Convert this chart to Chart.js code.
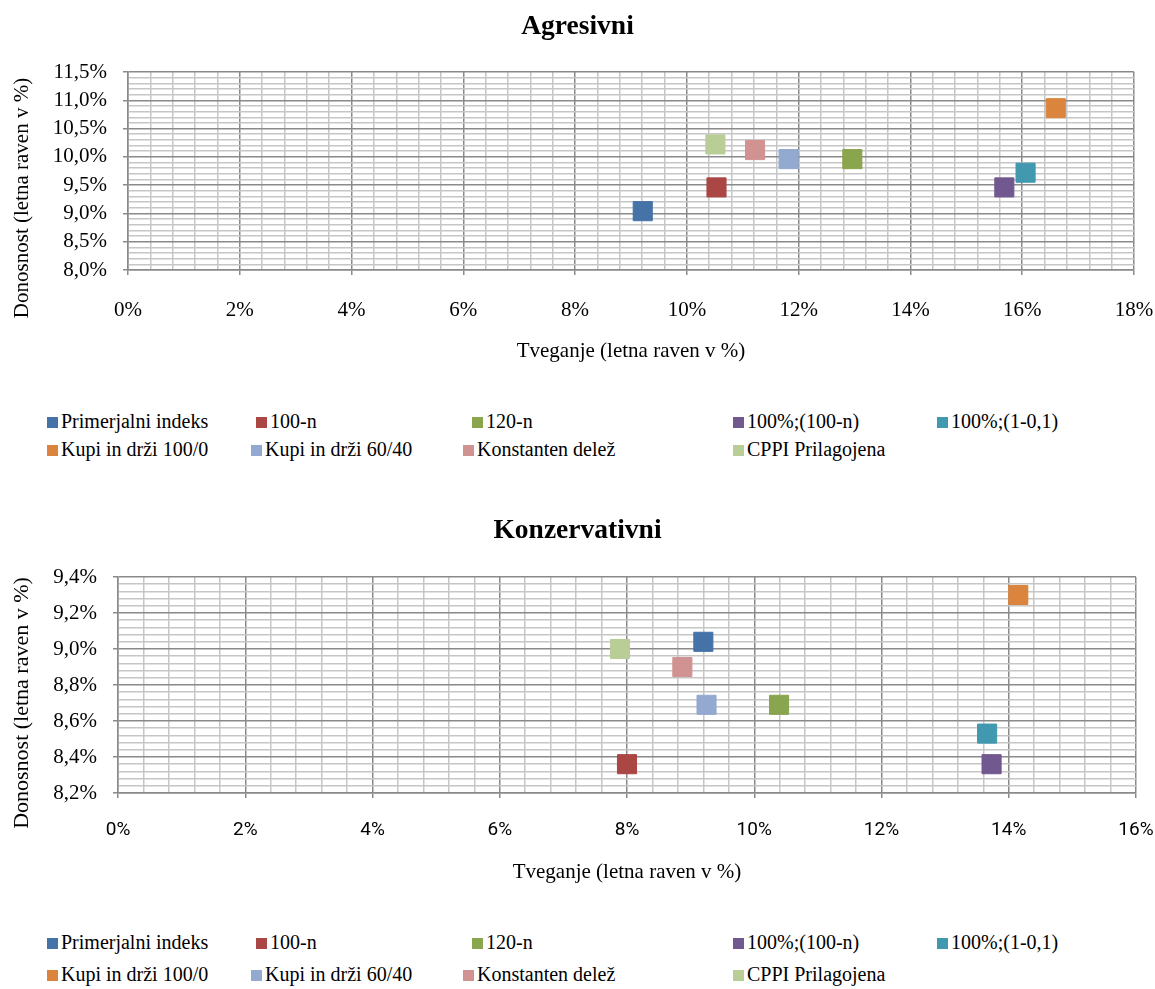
<!DOCTYPE html>
<html><head><meta charset="utf-8">
<script src="https://cdn.jsdelivr.net/npm/chart.js@4.4.1/dist/chart.umd.min.js"></script>
<style>
html,body{margin:0;padding:0;background:#fff;}
#page{position:relative;width:1155px;height:989px;overflow:hidden;background:#fff;}
canvas{position:absolute;left:0;}
.li{position:absolute;white-space:nowrap;display:flex;align-items:center;transform:translateY(-50%);
  font-family:"Liberation Serif","Times New Roman",serif;font-size:20px;color:#000;line-height:24px;}
.li i{display:inline-block;width:11px;height:11px;margin-right:3px;margin-top:2px;}
</style></head>
<body><div id="page">
<canvas id="c1" width="1155" height="380" style="top:0px"></canvas>
<canvas id="c2" width="1155" height="390" style="top:505px"></canvas>
</div>
<script>
// ---- data ----
const seriesNames = ['Primerjalni indeks','100-n','120-n','100%;(100-n)','100%;(1-0,1)',
                     'Kupi in drži 100/0','Kupi in drži 60/40','Konstanten delež','CPPI Prilagojena'];
const seriesColors = ['#4572A7','#AA4643','#89A54E','#71588F','#4198AF','#DB843D','#93A9CF','#D19392','#B9CD96'];

const agresivniRisk   = [9.21, 10.53, 12.96, 15.68, 16.06, 16.60, 11.82, 11.22, 10.51];
const agresivniReturn = [9.04, 9.46, 9.96, 9.46, 9.72, 10.86, 9.96, 10.12, 10.22];
const konzervRisk     = [9.20, 8.00, 10.39, 13.73, 13.66, 14.15, 9.25, 8.87, 7.89];
const konzervReturn   = [9.04, 8.36, 8.69, 8.36, 8.53, 9.30, 8.69, 8.90, 9.00];

const agresivniXTicks = [0, 2, 4, 6, 8, 10, 12, 14, 16, 18];
const agresivniYTicks = [8.0, 8.5, 9.0, 9.5, 10.0, 10.5, 11.0, 11.5];
const konzervXTicks   = [0, 2, 4, 6, 8, 10, 12, 14, 16];
const konzervYTicks   = [8.2, 8.4, 8.6, 8.8, 9.0, 9.2, 9.4];

const titleText = ['Agresivni', 'Konzervativni'];
const xTitle = 'Tveganje (letna raven v %)';
const yTitle = 'Donosnost (letna raven v %)';

// ---- helpers ----
const SERIF = '"Liberation Serif","Times New Roman",serif';
const MAJOR = '#8a8a8a', MINOR = '#c6c6c6';
function withMinor(major, n) {
  const out = [];
  for (let i = 0; i < major.length - 1; i++) {
    for (let k = 0; k < n; k++) out.push(+(major[i] + k * (major[i+1] - major[i]) / n).toFixed(6));
  }
  out.push(major[major.length - 1]);
  return out;
}
function isMajor(v, major) { return major.some(m => Math.abs(m - v) < 1e-6); }
const fmtY = v => v.toFixed(1).replace('.', ',') + '%';
const fmtX = v => v + '%';

const yTitlePlugin = {
  id: 'yTitlePlugin',
  afterDraw(chart, args, o) {
    const ctx = chart.ctx;
    ctx.save();
    ctx.translate(o.x, o.y);
    ctx.rotate(-Math.PI / 2);
    ctx.font = o.size + 'px ' + SERIF;
    ctx.fillStyle = '#000';
    ctx.textAlign = 'center';
    ctx.textBaseline = 'middle';
    ctx.fillText(o.text, 0, 0);
    ctx.restore();
  }
};

function makeChart(id, cfg) {
  const datasets = seriesNames.map((name, i) => ({
    label: name,
    data: [{ x: cfg.risk[i], y: cfg.ret[i] }],
    backgroundColor: seriesColors[i],
    borderColor: seriesColors[i],
    pointStyle: 'rect',
    pointRadius: 13.5,
    pointBorderWidth: 1
  }));
  const gridFor = (major) => ({
    drawTicks: true,
    tickLength: 5,
    color: c => isMajor(c.tick.value, major) ? MAJOR : MINOR,
    lineWidth: 1.5,
    tickColor: c => isMajor(c.tick.value, major) ? MAJOR : 'rgba(0,0,0,0)',
    tickWidth: 1.5
  });
  return new Chart(document.getElementById(id), {
    type: 'scatter',
    data: { datasets },
    plugins: [yTitlePlugin],
    options: {
      responsive: false,
      animation: false,
      devicePixelRatio: 1,
      layout: { padding: 0 },
      plugins: {
        legend: { display: false },
        tooltip: { enabled: false },
        title: {
          display: true, text: cfg.title, color: '#000',
          font: { family: SERIF, size: cfg.titleSize, weight: 'bold', lineHeight: 1.2 },
          padding: { top: cfg.titlePadTop, bottom: cfg.titlePadBottom }
        },
        yTitlePlugin: { text: yTitle, x: 22, y: cfg.yTitleY, size: cfg.yTitleSize }
      },
      scales: {
        x: {
          type: 'linear', min: cfg.xMajor[0], max: cfg.xMajor[cfg.xMajor.length - 1],
          afterBuildTicks: s => { s.ticks = withMinor(cfg.xMajor, 5).map(v => ({ value: v })); },
          afterFit: s => { s.height = cfg.xAxisHeight; s.paddingLeft = 0; s.paddingRight = cfg.padRight; },
          grid: gridFor(cfg.xMajor),
          border: { display: true, color: MAJOR, width: 1.5 },
          ticks: {
            autoSkip: false, maxRotation: 0, padding: cfg.xTickPad, color: '#000',
            font: cfg.xTickFont,
            callback: v => isMajor(v, cfg.xMajor) ? fmtX(v) : ''
          },
          title: {
            display: true, text: xTitle, color: '#000',
            font: { family: SERIF, size: 21, lineHeight: 1.2 },
            padding: { top: 0, bottom: cfg.xTitlePadBottom }
          }
        },
        y: {
          type: 'linear', min: cfg.yMajor[0], max: cfg.yMajor[cfg.yMajor.length - 1],
          afterBuildTicks: s => { s.ticks = withMinor(cfg.yMajor, 5).map(v => ({ value: v })); },
          afterFit: s => { s.width = cfg.yAxisWidth; s.paddingTop = 0; s.paddingBottom = 0; },
          grid: gridFor(cfg.yMajor),
          border: { display: true, color: MAJOR, width: 1.5 },
          ticks: {
            autoSkip: false, padding: 16, color: '#000',
            font: { family: SERIF, size: 21, lineHeight: 1.2 },
            callback: v => isMajor(v, cfg.yMajor) ? fmtY(v) : ''
          }
        }
      }
    }
  });
}

makeChart('c1', {
  title: titleText[0], risk: agresivniRisk, ret: agresivniReturn,
  xMajor: agresivniXTicks, yMajor: agresivniYTicks,
  padRight: 21, titleSize: 27.5, titlePadTop: 10.5, titlePadBottom: 28.5,
  xAxisHeight: 110, yAxisWidth: 128, xTickPad: 22.4, xTitlePadBottom: 16.4,
  xTickFont: { family: SERIF, size: 21, lineHeight: 1.2 },
  yTitleY: 198, yTitleSize: 21
});
makeChart('c2', {
  title: titleText[1], risk: konzervRisk, ret: konzervReturn,
  xMajor: konzervXTicks, yMajor: konzervYTicks,
  padRight: 19, titleSize: 27.5, titlePadTop: 9.5, titlePadBottom: 29.5,
  xAxisHeight: 102, yAxisWidth: 118, xTickPad: 21, xTitlePadBottom: 10.4,
  xTickFont: { family: 'Roboto, "Liberation Sans", sans-serif', size: 19, lineHeight: 1.2 },
  yTitleY: 198, yTitleSize: 22
});

// ---- HTML legends ----
const legendLayouts = [
  { rows: [421, 449], cols: [[47, 256, 472, 733, 937], [47, 251, 463, 733]] },
  { rows: [942, 974], cols: [[47, 256, 472, 733, 937], [47, 251, 463, 733]] }
];
const page = document.getElementById('page');
legendLayouts.forEach(L => {
  let idx = 0;
  L.cols.forEach((row, r) => {
    row.forEach(x => {
      const d = document.createElement('div');
      d.className = 'li';
      d.style.left = x + 'px';
      d.style.top = L.rows[r] + 'px';
      const m = document.createElement('i');
      m.style.background = seriesColors[idx];
      d.appendChild(m);
      d.appendChild(document.createTextNode(seriesNames[idx]));
      page.appendChild(d);
      idx++;
    });
  });
});
</script>
</body></html>
